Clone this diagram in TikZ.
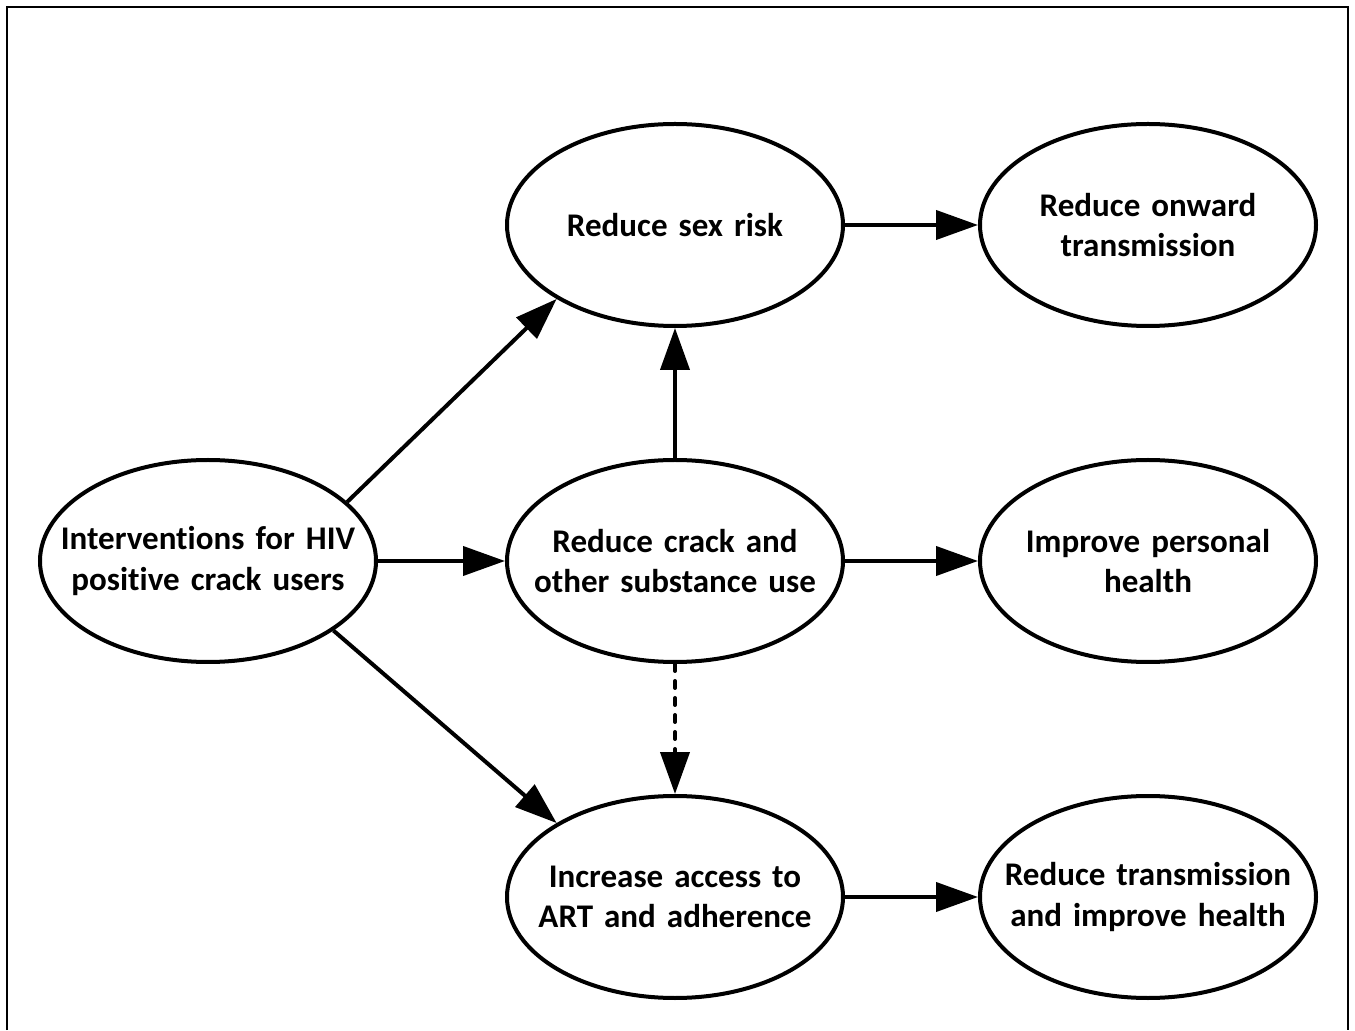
\documentclass[tikz,border=0pt]{standalone}
\usepackage{fontspec}
\setmainfont{Carlito}[Ligatures=NoCommon, WordSpace=0.7]
\usepackage{tikz}
\usetikzlibrary{arrows.meta, positioning, shapes.geometric}

\begin{document}
\begin{tikzpicture}[
  font=\fontsize{18.8pt}{22.8pt}\selectfont\bfseries,
  every node/.style={align=center},
  oval/.style={draw, ellipse, line width=0.08cm,
               minimum width=6.72cm, minimum height=4.04cm,
               text width=6.4cm, inner xsep=-0.9cm},
  arr/.style={-{Triangle[length=0.84cm, width=0.58cm]}, line width=0.08cm},
  dotarr/.style={arr, line cap=round, dash pattern=on 0.14cm off 0.2cm},
  frame/.style={line width=0.04cm},
]

%% Page and frame (bottom edge runs off the page)
\useasboundingbox (0,0) rectangle (27.1,20.6);
\draw[frame] (0.14,0) -- (0.14,20.46) -- (26.96,20.46) -- (26.96,0);

%% Left: source node, middle column, right column
\node[oval] (int) at (4.16, 9.38)
  {Interventions for HIV\\positive crack users};
\node[oval, right=2.54cm of int] (crack)
  {Reduce crack and\\other substance use};
\node[oval, above=2.6cm of crack] (sex)
  {Reduce sex risk};
\node[oval, below=2.6cm of crack] (art)
  {Increase access to\\ART and adherence};
\node[oval, right=2.66cm of sex] (onward)
  {Reduce onward\\transmission};
\node[oval, right=2.66cm of crack] (health)
  {Improve personal\\health};
\node[oval, right=2.66cm of art] (both)
  {Reduce transmission\\and improve health};

%% Arrows from the interventions
\draw[arr] (int.23)   -- (sex.212);
\draw[arr] (int.east) -- (crack.west);
\draw[arr] (int.-29)  -- (art.148);

%% Arrows from the middle column
\draw[arr]    (crack) -- (sex);
\draw[dotarr] (crack) -- (art);
\draw[arr] (sex)   -- (onward);
\draw[arr] (crack) -- (health);
\draw[arr] (art)   -- (both);

\end{tikzpicture}
\end{document}
